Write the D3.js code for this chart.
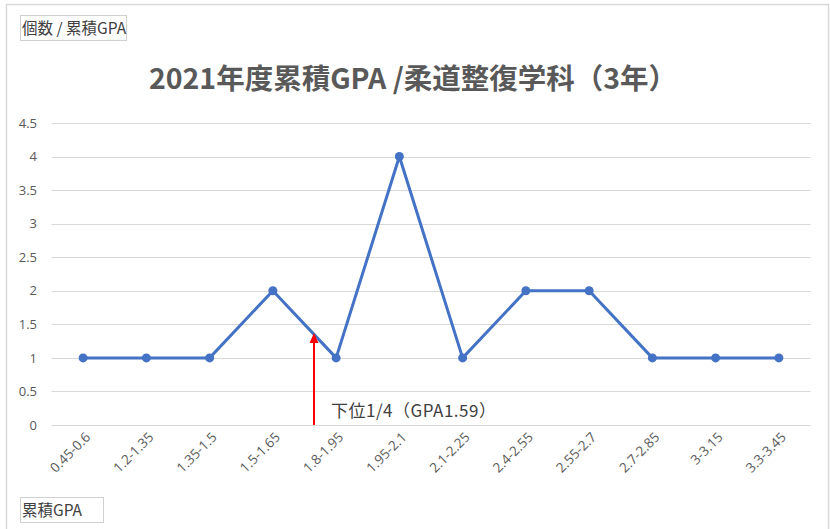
<!DOCTYPE html>
<html><head><meta charset="utf-8">
<script src="https://cdn.jsdelivr.net/npm/d3@7"></script>
<style>
body{margin:0;background:#fff;}
svg{display:block;}
</style></head>
<body>
<script>
const categories = ["0.45-0.6","1.2-1.35","1.35-1.5","1.5-1.65","1.8-1.95","1.95-2.1","2.1-2.25","2.4-2.55","2.55-2.7","2.7-2.85","3-3.15","3.3-3.45"];
const counts = [1,1,1,2,1,4,1,2,2,1,1,1];
const yTicks = [0,0.5,1,1.5,2,2.5,3,3.5,4,4.5];
const titleText = "2021年度累積GPA /柔道整復学科（3年）";
const yAxisTitle = "個数 / 累積GPA";
const xAxisTitle = "累積GPA";
const markerLabel = "下位1/4（GPA1.59）";
const markerIndex = 3.65;   // position between categories (GPA 1.59)
const markerTop = 1.37;     // arrow tip value

const W = 830, H = 529;
const font = "'Noto Sans CJK JP','Noto Sans',sans-serif";
const numFont = "'Open Sans','Noto Sans',sans-serif";
const svg = d3.select("body").append("svg").attr("width", W).attr("height", H);

// outer border
svg.append("rect").attr("x",6.5).attr("y",4.5).attr("width",822).attr("height",540)
  .attr("fill","none").attr("stroke","#d9d9d9").attr("stroke-width",1.5);

const plotL = 51.5, plotR = 810.5, plotT = 123, plotB = 425;
const x = d3.scaleBand().domain(categories).range([plotL, plotR]);
const xPos = i => plotL + (i + 0.5) * x.step();
const y = d3.scaleLinear().domain([0,4.5]).range([plotB, plotT]);

// gridlines
svg.append("g").selectAll("line").data(yTicks).join("line")
  .attr("x1",plotL).attr("x2",plotR)
  .attr("y1",d=>Math.round(y(d))+0.5).attr("y2",d=>Math.round(y(d))+0.5)
  .attr("stroke","#d9d9d9").attr("stroke-width",1.2);

// y axis labels
const yAxis = d3.axisLeft(y).tickValues(yTicks).tickSize(0).tickPadding(0).tickFormat(d3.format("~g"));
const gy = svg.append("g").attr("transform",`translate(37,0)`).call(yAxis);
gy.select(".domain").remove();
gy.selectAll("text").attr("font-family",numFont).attr("font-size",13).attr("fill","#595959");

// x axis labels
const xAxis = d3.axisBottom(x).tickSize(0).tickPadding(0);
const gx = svg.append("g").attr("transform",`translate(0,${plotB})`).call(xAxis);
gx.select(".domain").remove();
gx.selectAll("text")
  .attr("font-family",numFont).attr("font-size",13.5).attr("fill","#595959")
  .attr("text-anchor","end").attr("dy",0).attr("y",0)
  .attr("transform","translate(8,13) rotate(-45)");

// line
const line = d3.line().x((d,i)=>xPos(i)).y(d=>y(d));
svg.append("path").datum(counts).attr("d",line)
  .attr("fill","none").attr("stroke","#4472c4").attr("stroke-width",3).attr("stroke-linejoin","round");
svg.append("g").selectAll("circle").data(counts).join("circle")
  .attr("cx",(d,i)=>xPos(i)).attr("cy",d=>y(d)).attr("r",4.5).attr("fill","#4472c4");

// red arrow
const ax = xPos(markerIndex);
svg.append("line").attr("x1",ax).attr("x2",ax).attr("y1",y(0)).attr("y2",y(markerTop)+8)
  .attr("stroke","#ff0000").attr("stroke-width",2);
svg.append("path")
  .attr("d",`M${ax},${y(markerTop)} L${ax-4.5},${y(markerTop)+10} L${ax+4.5},${y(markerTop)+10} Z`)
  .attr("fill","#ff0000");
svg.append("text").attr("x",ax+17).attr("y",417).text(markerLabel)
  .attr("font-family",font).attr("font-size",17).attr("letter-spacing",0.5).attr("fill","#404040");

// title
svg.append("text").attr("x",413).attr("y",89).attr("text-anchor","middle").text(titleText)
  .attr("font-family",font).attr("font-size",28.5).attr("font-weight","bold").attr("fill","#595959");

// axis title boxes
function boxLabel(txt, bx, by, bw, bh){
  svg.append("rect").attr("x",bx+0.5).attr("y",by+0.5).attr("width",bw).attr("height",bh)
    .attr("fill","#fff").attr("stroke","#d0d0d0");
  svg.append("text").attr("x",bx+2).attr("y",by+bh-6).text(txt)
    .attr("font-family",font).attr("font-size",15.5).attr("fill","#404040");
}
boxLabel(yAxisTitle, 20, 15, 106, 25);
boxLabel(xAxisTitle, 20, 497, 83, 25);
</script>
</body></html>
